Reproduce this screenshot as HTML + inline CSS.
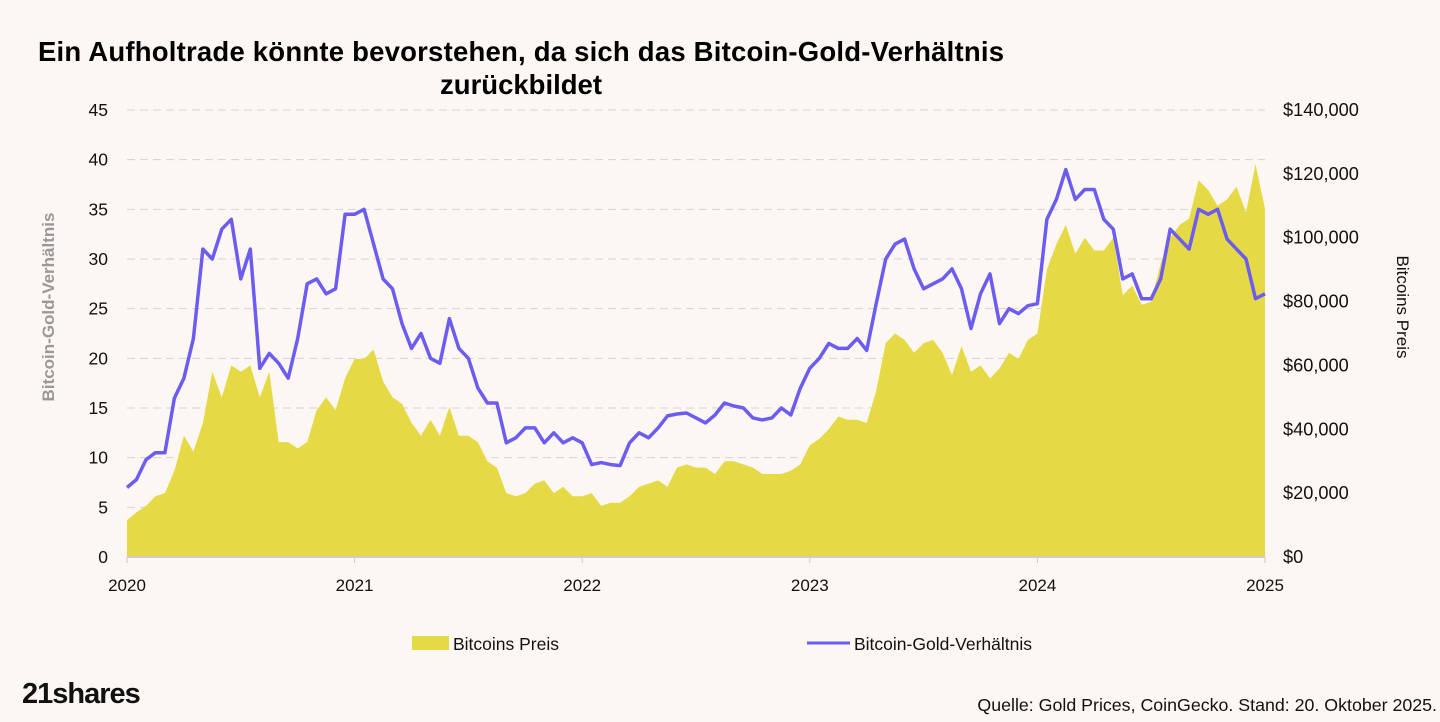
<!DOCTYPE html>
<html><head><meta charset="utf-8"><style>
body{margin:0;background:#fdf7f4;font-family:"Liberation Sans",Arial,sans-serif;}
svg{display:block}
</style></head><body>
<svg id="chart" width="1440" height="722">
<rect width="1440" height="722" fill="#fdf7f4"/>
<text x="521" y="61" text-anchor="middle" font-size="27.5" font-weight="bold" fill="#000" textLength="966">Ein Aufholtrade könnte bevorstehen, da sich das Bitcoin-Gold-Verhältnis</text>
<text x="521" y="94" text-anchor="middle" font-size="27.5" font-weight="bold" fill="#000">zurückbildet</text>
<g id="grid"></g><g id="area"></g><g id="line"></g><g id="axes"></g>
<text transform="translate(54,307) rotate(-90)" text-anchor="middle" font-size="17" font-weight="bold" fill="#999">Bitcoin-Gold-Verhältnis</text>
<text transform="translate(1397,307) rotate(90)" text-anchor="middle" font-size="17" fill="#111">Bitcoins Preis</text>
<g>
<rect x="412" y="636" width="37" height="14" fill="#e5da45"/>
<text x="453" y="650" font-size="17.5" fill="#111">Bitcoins Preis</text>
<line x1="807" y1="643" x2="850" y2="643" stroke="#6c5cf0" stroke-width="3"/>
<text x="854" y="650" font-size="17.5" fill="#111">Bitcoin-Gold-Verhältnis</text>
</g>
<text x="22" y="703" font-size="29" font-weight="bold" fill="#111" letter-spacing="-1">21shares</text>
<text x="1437" y="711" text-anchor="end" font-size="17.8" fill="#111">Quelle: Gold Prices, CoinGecko. Stand: 20. Oktober 2025.</text>
</svg>
<script>
const years=["2020","2021","2022","2023","2024","2025"];
const leftTicks=[0,5,10,15,20,25,30,35,40,45];
const rightTicks=["$0","$20,000","$40,000","$60,000","$80,000","$100,000","$120,000","$140,000"];
const ratio=[7,7.8,9.8,10.5,10.5,16,18,22,31,30,33,34,28,31,19,20.5,19.5,18,22,27.5,28,26.5,27,34.5,
34.5,35,31.5,28,27,23.5,21,22.5,20,19.5,24,21,20,17,15.5,15.5,11.5,12,13,13,11.5,12.5,11.5,12,
11.5,9.3,9.5,9.3,9.2,11.5,12.5,12,13,14.2,14.4,14.5,14,13.5,14.3,15.5,15.2,15,14,13.8,14,15,14.3,17,
19,20,21.5,21,21,22,20.8,25.5,30,31.5,32,29,27,27.5,28,29,27,23,26.5,28.5,23.5,25,
24.5,25.3,25.5,34,36,39,36,37,37,34,33,28,28.5,26,26,28,33,32,31,35,34.5,35,32,31,30,26,26.5];
const price=[11.5,14,16,19,20,27,38,33,42,58,50,60,58,60,50,58,36,36,34,36,46,50,46,56,
62,62,65,55,50,48,42,38,43,38,47,38,38,36,30,28,20,19,20,23,24,20,22,19,
19,20,16,17,17,19,22,23,24,22,28,29,28,28,26,30,30,29,28,26,26,26,27,29,
35,37,40,44,43,43,42,52,67,70,68,64,67,68,64,57,66,58,60,56,59,64,
62,68,70,90,98,104,95,100,96,96,100,82,85,79,80,92,100,104,106,118,115,110,112,116,108,123,109];
const X0=127,X1=1265,Y0=557,Y1=110;
const n=ratio.length;
const xs=i=>X0+(X1-X0)*i/(n-1);
const yl=v=>Y0-(Y0-Y1)*v/45;
const yr=v=>Y0-(Y0-Y1)*v/140;
const NS="http://www.w3.org/2000/svg";
function mk(t,p,a){const e=document.createElementNS(NS,t);for(const k in a)e.setAttribute(k,a[k]);p.appendChild(e);return e;}
const grid=document.getElementById('grid'),axes=document.getElementById('axes');
leftTicks.forEach((t,i)=>{
 if(t>0){const g=mk('line',grid,{x1:X0,x2:X1,y1:yl(t),y2:yl(t),stroke:'#d8d2cf','stroke-dasharray':'8,5'});
 
 }
 const l=mk('text',axes,{x:108,y:yl(t)+6,'text-anchor':'end','font-size':17.5,fill:'#111'});l.textContent=t;
 
 
});
rightTicks.forEach((t,i)=>{
 const l=mk('text',axes,{x:1283,y:yr(i*20)+6,'font-size':18.2,fill:'#111'});l.textContent=t;
 
 
});
years.forEach((y,i)=>{
 const x=X0+(X1-X0)*i/5;
 const l=mk('text',axes,{x:x,y:591,'text-anchor':'middle','font-size':17,fill:'#111'});l.textContent=y;
 
 
 const tk=mk('line',axes,{x1:x,x2:x,y1:Y0,y2:Y0+6,stroke:'#ccc'});
 
 
});
let d='M'+X0+','+Y0;price.forEach((v,i)=>d+=' L'+xs(i).toFixed(1)+','+yr(v).toFixed(1));d+=' L'+X1+','+Y0+'Z';
const a=mk('path',document.getElementById('area'),{d:d,fill:'#e5da45'});


let d2='';ratio.forEach((v,i)=>d2+=(i?' L':'M')+xs(i).toFixed(1)+','+yl(v).toFixed(1));
const ln=mk('path',document.getElementById('line'),{d:d2,fill:'none',stroke:'#6c5cf0','stroke-width':3.5,'stroke-linejoin':'round'});


const base=mk('line',axes,{x1:X0,x2:X1,y1:Y0,y2:Y0,stroke:'#ccc','stroke-width':2});


</script>
</body></html>
